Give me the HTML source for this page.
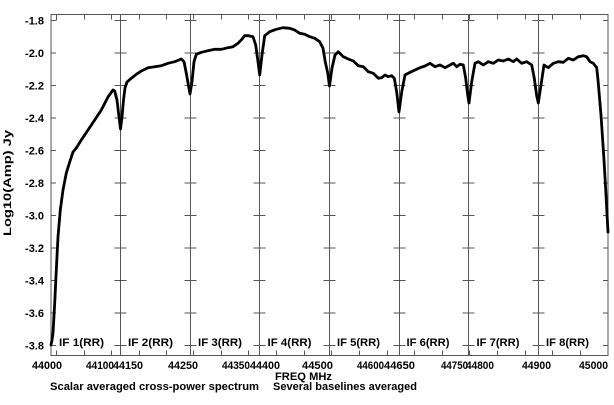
<!DOCTYPE html>
<html>
<head>
<meta charset="utf-8">
<style>
html,body{margin:0;padding:0;background:#fff;}
svg{display:block;}
text{font-family:"Liberation Sans",Arial,sans-serif;font-weight:bold;font-size:11px;fill:#000;}
</style>
</head>
<body>
<svg width="614" height="405" viewBox="0 0 614 405" xmlns="http://www.w3.org/2000/svg">
<rect x="0" y="0" width="614" height="405" fill="#fff"/>
<g stroke="#555" stroke-width="1" fill="none">
<rect x="51" y="14.5" width="557" height="341"/>
<line x1="120.5" y1="14.5" x2="120.5" y2="355.5"/>
<line x1="190.5" y1="14.5" x2="190.5" y2="355.5"/>
<line x1="259.5" y1="14.5" x2="259.5" y2="355.5"/>
<line x1="329.5" y1="14.5" x2="329.5" y2="355.5"/>
<line x1="399.5" y1="14.5" x2="399.5" y2="355.5"/>
<line x1="468.5" y1="14.5" x2="468.5" y2="355.5"/>
<line x1="538.5" y1="14.5" x2="538.5" y2="355.5"/>
</g>
<g stroke="#555" stroke-width="1">
<path d="M51 20.5h5M51 53h5M51 85.5h5M51 118h5M51 150.5h5M51 183h5M51 215.5h5M51 248h5M51 280.5h5M51 313h5M51 345.5h5"/>
<path d="M603 20.5h5M603 53h5M603 85.5h5M603 118h5M603 150.5h5M603 183h5M603 215.5h5M603 248h5M603 280.5h5M603 313h5M603 345.5h5"/>
<path d="M114.5 20.5h12M114.5 53h12M114.5 85.5h12M114.5 118h12M114.5 150.5h12M114.5 183h12M114.5 215.5h12M114.5 248h12M114.5 280.5h12M114.5 313h12M114.5 345.5h12"/>
<path d="M184.5 20.5h12M184.5 53h12M184.5 85.5h12M184.5 118h12M184.5 150.5h12M184.5 183h12M184.5 215.5h12M184.5 248h12M184.5 280.5h12M184.5 313h12M184.5 345.5h12"/>
<path d="M253.5 20.5h12M253.5 53h12M253.5 85.5h12M253.5 118h12M253.5 150.5h12M253.5 183h12M253.5 215.5h12M253.5 248h12M253.5 280.5h12M253.5 313h12M253.5 345.5h12"/>
<path d="M323.5 20.5h12M323.5 53h12M323.5 85.5h12M323.5 118h12M323.5 150.5h12M323.5 183h12M323.5 215.5h12M323.5 248h12M323.5 280.5h12M323.5 313h12M323.5 345.5h12"/>
<path d="M393.5 20.5h12M393.5 53h12M393.5 85.5h12M393.5 118h12M393.5 150.5h12M393.5 183h12M393.5 215.5h12M393.5 248h12M393.5 280.5h12M393.5 313h12M393.5 345.5h12"/>
<path d="M462.5 20.5h12M462.5 53h12M462.5 85.5h12M462.5 118h12M462.5 150.5h12M462.5 183h12M462.5 215.5h12M462.5 248h12M462.5 280.5h12M462.5 313h12M462.5 345.5h12"/>
<path d="M532.5 20.5h12M532.5 53h12M532.5 85.5h12M532.5 118h12M532.5 150.5h12M532.5 183h12M532.5 215.5h12M532.5 248h12M532.5 280.5h12M532.5 313h12M532.5 345.5h12"/>
<path d="M56.5 14.5v6M84.5 14.5v5M111.5 14.5v5M139.5 14.5v5M166.5 14.5v5M193.5 14.5v5M221.5 14.5v5M248.5 14.5v5M276.5 14.5v5M304.5 14.5v5M331.5 14.5v5M359.5 14.5v5M387.5 14.5v5M414.5 14.5v5M442.5 14.5v5M469.5 14.5v5M497.5 14.5v5M525.5 14.5v5M552.5 14.5v5M580.5 14.5v5"/>
<path d="M56.5 355.5v-5M84.5 355.5v-5M111.5 355.5v-5M139.5 355.5v-5M166.5 355.5v-5M193.5 355.5v-5M221.5 355.5v-5M248.5 355.5v-5M276.5 355.5v-5M304.5 355.5v-5M331.5 355.5v-5M359.5 355.5v-5M387.5 355.5v-5M414.5 355.5v-5M442.5 355.5v-5M469.5 355.5v-5M497.5 355.5v-5M525.5 355.5v-5M552.5 355.5v-5M580.5 355.5v-5"/>
</g>
<g text-anchor="end">
<text x="44" y="24.5">-1.8</text>
<text x="44" y="57">-2.0</text>
<text x="44" y="89.5">-2.2</text>
<text x="44" y="122">-2.4</text>
<text x="44" y="154.5">-2.6</text>
<text x="44" y="187">-2.8</text>
<text x="44" y="219.5">-3.0</text>
<text x="44" y="252">-3.2</text>
<text x="44" y="284.5">-3.4</text>
<text x="44" y="317">-3.6</text>
<text x="44" y="349.5">-3.8</text>
</g>
<g>
<text x="32" y="369" textLength="30" lengthAdjust="spacingAndGlyphs">44000</text>
<text x="86" y="369" textLength="28" lengthAdjust="spacingAndGlyphs">44100</text>
<text x="113" y="369" textLength="30" lengthAdjust="spacingAndGlyphs">44150</text>
<text x="168" y="369" textLength="30" lengthAdjust="spacingAndGlyphs">44250</text>
<text x="222" y="369" textLength="28" lengthAdjust="spacingAndGlyphs">44350</text>
<text x="250" y="369" textLength="30" lengthAdjust="spacingAndGlyphs">44400</text>
<text x="302" y="369" textLength="31" lengthAdjust="spacingAndGlyphs">44500</text>
<text x="357" y="369" textLength="27" lengthAdjust="spacingAndGlyphs">44600</text>
<text x="384" y="369" textLength="31" lengthAdjust="spacingAndGlyphs">44650</text>
<text x="441" y="369" textLength="27" lengthAdjust="spacingAndGlyphs">44750</text>
<text x="466" y="369" textLength="28" lengthAdjust="spacingAndGlyphs">44800</text>
<text x="522" y="369" textLength="29" lengthAdjust="spacingAndGlyphs">44900</text>
<text x="579" y="369" textLength="29" lengthAdjust="spacingAndGlyphs">45000</text>
<text x="275" y="380" textLength="57" lengthAdjust="spacingAndGlyphs">FREQ MHz</text>
<text x="50" y="390" textLength="209" lengthAdjust="spacingAndGlyphs">Scalar averaged cross-power spectrum</text>
<text x="273" y="390" textLength="144" lengthAdjust="spacingAndGlyphs">Several baselines averaged</text>
</g>
<g>
<text x="59" y="346" textLength="45" lengthAdjust="spacingAndGlyphs">IF 1(RR)</text>
<text x="128" y="346" textLength="45" lengthAdjust="spacingAndGlyphs">IF 2(RR)</text>
<text x="198" y="346" textLength="44" lengthAdjust="spacingAndGlyphs">IF 3(RR)</text>
<text x="267.5" y="346" textLength="44" lengthAdjust="spacingAndGlyphs">IF 4(RR)</text>
<text x="337" y="346" textLength="43" lengthAdjust="spacingAndGlyphs">IF 5(RR)</text>
<text x="406.5" y="346" textLength="43" lengthAdjust="spacingAndGlyphs">IF 6(RR)</text>
<text x="476.5" y="346" textLength="43" lengthAdjust="spacingAndGlyphs">IF 7(RR)</text>
<text x="546" y="346" textLength="43" lengthAdjust="spacingAndGlyphs">IF 8(RR)</text>
</g>
<text transform="translate(11,183) rotate(-90)" text-anchor="middle" textLength="106" lengthAdjust="spacingAndGlyphs">Log10(Amp) Jy</text>
<polyline fill="none" stroke="#000" stroke-width="2.8" stroke-linejoin="round" stroke-linecap="round" points="51,345 52,340 53,333 54.7,303 56.3,270 58,237 60.3,210 63,190 66.3,173 69.7,162 73,152 76.3,148 81.3,140 88,130 94.7,120 101.3,110 108,97 113,90 114.7,91 117,100 119,117 120.5,129 122,117 123.5,100 125,88 127,82 131.3,78.3 136.3,74.3 141.3,71 148,67.7 154.7,66.7 161.3,65.7 168,63.3 174.7,61.7 181.3,59 184,61.7 186.3,73.3 188.7,86.7 190,94 192,81.7 194,61.7 196.3,54.3 201.3,52.3 208,50.7 214.7,49.3 221.3,49.3 228,47.7 233,46.7 238,43.3 241.3,40 244.7,35.7 248.7,35.7 253,36.7 255.7,45 258,61.7 259.7,75 262,55 264.7,35.7 269.7,31.7 276.3,29.3 283,27.7 289.7,28.3 294.7,30 299.7,33.3 304.7,34.3 309.7,36.7 314.7,38.3 319.7,41.7 323,48.3 325.3,62 327.7,73 329.5,86 332,68 335,55 338.3,51.7 343.3,56.7 348.3,59 353.3,61 358.3,65.7 363.3,66.7 368.3,71.7 373.3,73.3 378.3,78.3 381.7,77.7 385,75 388.3,76.7 391.7,75.7 394.3,78.3 396.7,92 399,112 401.7,92 405,75 410,72.3 415,70 420,67.7 425,66 430,63.3 435,66.7 440,65 445,67.7 450,65 453.3,63.3 456.7,66.7 460,64.3 463.3,65 465.7,78.3 467.7,95 469,103 471.7,81.7 475,63.3 478.3,61.7 483.3,65 488.3,61.7 493.3,63.3 498.3,60 503.3,61 508.3,59 513.3,61.7 516.7,59 521.7,63.3 526.7,61.7 531.7,65 534.3,78.3 536.7,96 538.3,103 541,85 544,65 548.3,67.7 553.3,63.3 558.3,61.7 563.3,62.3 568.3,58.3 573.3,60 578.3,56.7 583.3,55.7 586.7,56.7 590,61.7 593.3,63.3 596.7,67.7 598,80 601,115 604,160 606,195 608,232"/>
</svg>
</body>
</html>
